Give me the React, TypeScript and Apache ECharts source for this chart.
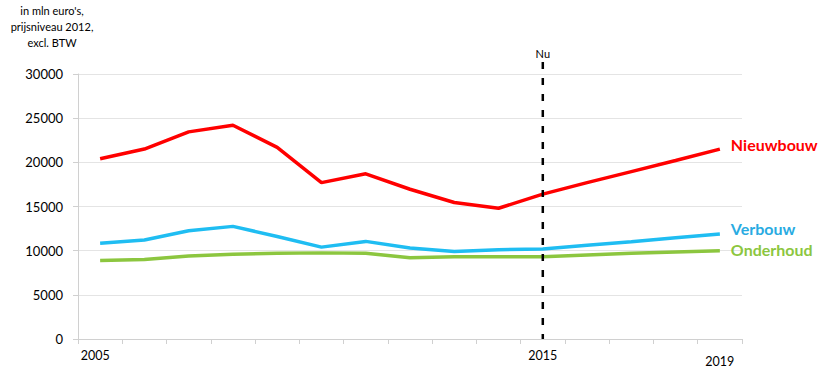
import React, { useEffect, useRef } from "react";
import * as echarts from "echarts";

const years = ["2005","2006","2007","2008","2009","2010","2011","2012","2013","2014","2015","2016","2017","2018","2019"];
const shownYears = ["2005", "2015", "2019"];
const nieuwbouw = [20400, 21500, 23450, 24200, 21700, 17700, 18700, 16950, 15450, 14800, 16400, 17700, 18950, 20200, 21500];
const verbouw = [10850, 11200, 12250, 12750, 11600, 10400, 11050, 10300, 9900, 10100, 10200, 10600, 11000, 11450, 11900];
const onderhoud = [8900, 9000, 9400, 9600, 9700, 9750, 9700, 9200, 9300, 9300, 9300, 9500, 9700, 9850, 10000];
const yTicks = { min: 0, max: 30000, interval: 5000 };
const nowYear = "2015";

const FONT = "Lato, 'Open Sans', sans-serif";

export default function App() {
  const ref = useRef<HTMLDivElement>(null);
  useEffect(() => {
    document.body.style.margin = "0";
    const chart = echarts.init(ref.current!, null, { renderer: "svg" });
    const mk = (name: string, data: number[], color: string, labelColor: string, offY: number) => ({
      name,
      type: "line",
      data,
      symbol: "none",
      lineStyle: { color, width: 3.5 },
      itemStyle: { color },
      endLabel: {
        show: true,
        formatter: name,
        distance: 11,
        offset: [0, offY],
        color: labelColor,
        fontFamily: FONT,
        fontWeight: "bold",
        fontSize: 16,
      },
    });
    chart.setOption({
      animation: false,
      textStyle: { fontFamily: FONT },
      grid: { left: 78, right: 84, top: 74, bottom: 27 },
      xAxis: {
        type: "category",
        boundaryGap: true,
        data: years.map((y) => {
          if (y === "2019") return { value: y, textStyle: { padding: [6, 0, 0, 0] } };
          if (y === "2005") return { value: y, textStyle: { padding: [0, 10, 0, 0] } };
          return y;
        }),
        axisLine: { lineStyle: { color: "#d0d0d0", width: 1 } },
        axisTick: { show: true, interval: 0, length: 5, lineStyle: { color: "#d0d0d0" } },
        axisLabel: {
          interval: (_i: number, v: string) => shownYears.includes(v),
          color: "#000",
          fontSize: 12.5,
          margin: 10,
          fontFamily: FONT,
        },
        splitLine: { show: false },
      },
      yAxis: {
        type: "value",
        min: yTicks.min,
        max: yTicks.max,
        interval: yTicks.interval,
        axisLine: { show: true, lineStyle: { color: "#d0d0d0", width: 1 } },
        axisTick: { show: true, length: 5, lineStyle: { color: "#d0d0d0" } },
        axisLabel: { color: "#000", fontSize: 13, margin: 15, fontFamily: FONT, formatter: (v: number) => String(v) },
        splitLine: { lineStyle: { color: "#e4e4e4", width: 1 } },
      },
      series: [
        mk("Nieuwbouw", nieuwbouw, "#ff0000", "#ff0000", -5),
        mk("Verbouw", verbouw, "#1fbdf2", "#29abe2", -5),
        mk("Onderhoud", onderhoud, "#8cc63f", "#8cc63f", -1),
      ],
    });
    const bottom = chart.convertToPixel({ xAxisIndex: 0, yAxisIndex: 0 }, [nowYear, 0]) as number[];
    const top = chart.convertToPixel({ xAxisIndex: 0, yAxisIndex: 0 }, [nowYear, yTicks.max]) as number[];
    chart.setOption({
      graphic: [
        {
          type: "line",
          shape: { x1: bottom[0], y1: top[1] - 12, x2: bottom[0], y2: bottom[1] },
          style: { stroke: "#000", lineWidth: 2.5, lineDash: [7, 9] },
          z: 10,
        },
        {
          type: "text",
          x: bottom[0],
          y: top[1] - 21,
          style: { text: "Nu", fill: "#000", fontSize: 11, fontFamily: FONT, align: "center", verticalAlign: "middle" },
        },
        {
          type: "text",
          x: 52,
          y: 26,
          style: {
            text: "in mln euro's,\nprijsniveau 2012,\nexcl. BTW",
            fill: "#000",
            fontSize: 11,
            lineHeight: 16,
            fontFamily: FONT,
            align: "center",
            verticalAlign: "middle",
          },
        },
      ],
    });
    return () => chart.dispose();
  }, []);
  return <div ref={ref} style={{ width: 826, height: 368 }} />;
}
